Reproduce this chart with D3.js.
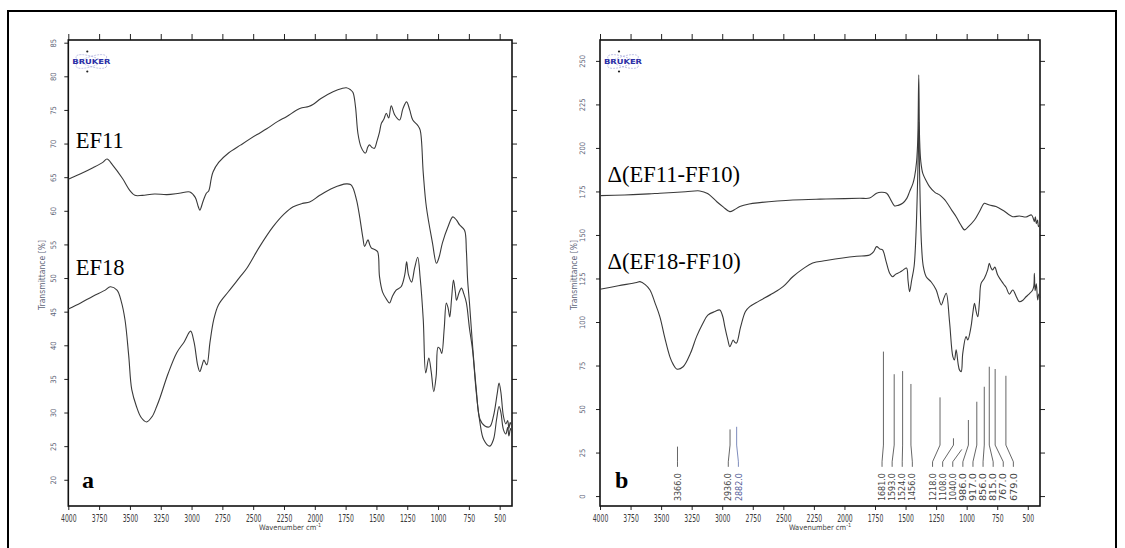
<!DOCTYPE html>
<html>
<head>
<meta charset="utf-8">
<script src="https://cdn.jsdelivr.net/npm/d3@7"></script>
<style>
  body { margin: 0; background: #fff; }
  svg text { font-family: "DejaVu Sans Condensed", "DejaVu Sans", sans-serif; }
</style>
</head>
<body>
<div id="chart"></div>
<script>
// ---- data (wavenumber cm-1, value) ----
const xTicks = d3.range(4000, 499, -250);
const yTicksA = d3.range(20, 86, 5);
const yTicksB = d3.range(0, 251, 25);

// panel a: transmittance [%]
const ef11 = [[4000,64.7],[3900,65.5],[3800,66.4],[3720,67.2],[3686,67.7],[3640,66.8],[3560,64.8],[3500,63.0],[3460,62.3],[3400,62.3],[3300,62.5],[3200,62.4],[3100,62.6],[3013,62.8],[2970,62.0],[2945,60.6],[2933,60.1],[2905,61.5],[2880,62.6],[2860,63.0],[2840,64.8],[2825,65.8],[2780,67.2],[2700,68.6],[2600,69.8],[2472,71.3],[2390,72.2],[2300,73.3],[2230,74.0],[2122,75.2],[2050,75.5],[2015,75.8],[1950,76.7],[1852,77.7],[1780,78.2],[1744,78.3],[1710,78.0],[1690,77.6],[1670,75.5],[1650,71.5],[1625,69.5],[1600,68.7],[1587,68.6],[1570,69.5],[1556,69.8],[1535,69.4],[1516,69.3],[1495,70.4],[1475,71.7],[1460,73.0],[1440,73.6],[1420,74.5],[1400,73.8],[1380,75.6],[1350,74.2],[1312,73.5],[1285,75.2],[1255,76.2],[1230,75.0],[1205,73.5],[1165,72.7],[1145,72.0],[1120,65.6],[1095,60.6],[1045,55.2],[1013,52.2],[990,53.2],[965,55.2],[920,57.6],[880,59.1],[850,58.6],[825,57.9],[785,57.1],[770,54.0],[760,49.7],[745,46.3],[720,40.0],[690,33.5],[660,29.0],[620,28.0],[580,27.9],[550,29.5],[520,32.8],[505,34.4],[490,33.0],[470,29.5],[450,28.3],[435,28.8],[425,27.6],[415,28.5],[400,27.8]];

const ef18 = [[4000,45.4],[3900,46.3],[3800,47.3],[3700,48.2],[3660,48.7],[3605,48.2],[3570,46.5],[3540,43.8],[3510,38.5],[3485,33.4],[3447,30.9],[3410,29.3],[3365,28.6],[3320,29.4],[3283,30.9],[3256,32.2],[3190,35.8],[3120,38.9],[3060,40.5],[3008,42.1],[2980,40.5],[2950,37.0],[2933,36.1],[2915,37.0],[2900,37.8],[2885,37.3],[2875,37.1],[2850,40.5],[2820,43.8],[2782,46.0],[2700,48.0],[2605,50.2],[2550,51.5],[2450,54.6],[2340,57.6],[2250,59.5],[2175,60.6],[2100,61.1],[2042,61.3],[1960,62.3],[1852,63.4],[1744,64.0],[1710,63.9],[1690,63.4],[1660,61.5],[1636,59.1],[1610,56.0],[1596,54.7],[1580,55.3],[1568,55.7],[1555,55.0],[1542,54.5],[1510,54.2],[1490,53.9],[1475,50.2],[1450,47.9],[1420,46.9],[1394,46.3],[1370,47.3],[1340,48.2],[1300,48.7],[1270,50.5],[1255,52.4],[1240,50.5],[1215,49.4],[1190,51.5],[1165,53.1],[1145,50.0],[1120,43.8],[1100,35.9],[1075,38.1],[1055,36.0],[1035,33.1],[1015,35.5],[1000,39.7],[985,39.5],[970,38.8],[950,42.5],[933,46.3],[918,45.5],[905,44.2],[890,47.0],[875,49.7],[860,48.0],[850,46.7],[830,47.8],[810,48.5],[790,47.6],[770,46.3],[745,42.5],[720,39.3],[690,33.0],[660,28.5],[630,26.0],[580,25.0],[550,26.0],[525,29.0],[505,30.9],[490,30.0],[470,27.5],[450,26.8],[435,27.8],[425,26.5],[412,27.6],[400,27.0]];

// panel b: difference spectra
const dEf11 = [[4000,172.6],[3800,173.0],[3600,173.6],[3510,174.0],[3300,174.8],[3183,175.3],[3120,173.8],[3044,169.1],[2990,166.0],[2938,163.4],[2900,164.5],[2856,166.3],[2780,167.8],[2693,168.6],[2550,169.5],[2423,170.1],[2200,170.6],[2000,170.9],[1876,171.1],[1794,171.2],[1737,174.0],[1700,174.5],[1655,174.0],[1620,170.0],[1590,166.7],[1560,167.0],[1524,168.2],[1490,171.0],[1467,174.9],[1440,179.5],[1426,183.5],[1410,192],[1400,205],[1392,242],[1385,205],[1375,192],[1359,185.4],[1330,181],[1304,177.8],[1260,174.5],[1222,173],[1190,171],[1167,169.1],[1120,164],[1086,160.5],[1050,156],[1018,152.9],[990,154.5],[936,158.6],[895,163.5],[855,168.2],[835,167.8],[814,167.2],[760,166.3],[700,164],[623,160.5],[569,160.9],[514,160.3],[470,161.5],[455,159.5],[446,157.6],[438,160.5],[430,156.5],[420,158.5],[412,154.8],[400,156]];

const dEf18 = [[4000,118.8],[3850,120.8],[3700,122.7],[3673,123.2],[3630,121.5],[3591,118.4],[3550,111],[3510,103],[3470,91],[3428,80],[3400,75.5],[3373,73],[3320,74.3],[3260,82],[3210,91.6],[3160,99],[3118,104],[3060,106],[3020,106.9],[2995,103],[2979,97.3],[2955,90],[2938,85.8],[2925,87.5],[2911,89.7],[2895,88.2],[2883,87.9],[2850,97],[2810,106],[2775,108.8],[2700,112],[2585,116.5],[2500,120.5],[2423,126],[2340,130.5],[2260,133.9],[2150,135.3],[2015,136.8],[1900,137.8],[1794,138.5],[1760,140.5],[1737,143.3],[1710,142],[1688,141.4],[1660,135],[1630,128],[1606,126],[1580,127.5],[1549,128.5],[1520,129.8],[1492,131],[1480,124],[1467,117.4],[1450,124],[1430,132],[1415,150],[1400,185],[1392,215],[1385,185],[1370,145],[1355,132],[1331,126],[1290,123],[1249,118.4],[1230,114],[1208,109.8],[1185,114],[1167,116.5],[1140,100],[1113,80.1],[1100,78.2],[1086,84.1],[1070,76],[1059,72.5],[1045,71.5],[1032,82.0],[1005,91.6],[991,89.7],[965,97],[950,105],[936,110.7],[922,106],[909,103],[895,112],[882,122.2],[855,125.1],[828,129.9],[815,133.7],[800,131],[787,129.9],[770,131.5],[746,127],[700,122],[678,120],[650,116],[623,118.4],[590,114],[569,111.7],[540,112.5],[514,114.5],[490,116],[460,118.4],[450,121],[446,128],[440,118],[430,122],[419,112.6],[410,116],[400,114]];

// peak picking sticks in panel b
const peaks = [3366, 2936, 2882, 1681, 1593, 1524, 1456, 1218, 1108, 1040, 986, 917, 856, 815, 767, 679];
const peakHeights = [28.4, 38.3, 39.8, 83, 70, 71.8, 64.4, 56.7, 33.2, 26.8, 43.7, 54.2, 62.8, 74.3, 73, 69.1];

// ---- layout ----
const W = 1125, H = 548;
const svg = d3.select("#chart").append("svg")
  .attr("width", W).attr("height", H)
  .style("display", "block");

// outer frame of the figure
svg.append("rect")
  .attr("x", 8).attr("y", 11).attr("width", 1108).attr("height", 560)
  .attr("fill", "none").attr("stroke", "#000").attr("stroke-width", 2);

const panels = [
  { left: 68.3, right: 512, yDomain: [16.1, 85.4], yTicks: yTicksA, labelOff: 12,
    series: [ef11, ef18], labels: [["EF11", 148], ["EF18", 275]], letter: "a", letterX: 82, ylabX: 45 },
  { left: 600, right: 1040, yDomain: [-5.7, 262], yTicks: yTicksB, labelOff: 15,
    series: [dEf11, dEf18], labels: [["\u0394(EF11-FF10)", 182], ["\u0394(EF18-FF10)", 269]], letter: "b", letterX: 615, ylabX: 577 }
];
const plotTop = 40, plotBottom = 506;

// spread peak labels so neighbours keep at least `gap` px apart
function spreadLabels(px, gap) {
  let groups = px.map((v, k) => ({ idx: [k] }));
  const place = gr => {
    const lo = px[gr.idx[0]], hi = px[gr.idx[gr.idx.length - 1]];
    gr.start = (lo + hi) / 2 - (gr.idx.length - 1) / 2 * gap;
  };
  groups.forEach(place);
  let changed = true;
  while (changed) {
    changed = false;
    for (let j = 1; j < groups.length; j++) {
      const prev = groups[j - 1], cur = groups[j];
      const prevEnd = prev.start + (prev.idx.length - 1) * gap;
      if (cur.start - prevEnd < gap) {
        prev.idx = prev.idx.concat(cur.idx);
        place(prev);
        groups.splice(j, 1);
        changed = true;
        break;
      }
    }
  }
  const lx = new Array(px.length);
  groups.forEach(gr => gr.idx.forEach((k, j) => { lx[k] = gr.start + j * gap; }));
  return lx;
}

panels.forEach((p, i) => {
  const x = d3.scaleLinear().domain([4000, 400]).range([p.left, p.right]);
  const y = d3.scaleLinear().domain(p.yDomain).range([plotBottom, plotTop]);
  const g = svg.append("g");

  // bottom axis with labels
  const ax = g.append("g").attr("transform", `translate(0,${plotBottom})`)
    .call(d3.axisBottom(x).tickValues(xTicks).tickSize(4).tickSizeOuter(0).tickFormat(d3.format("d")));
  ax.select(".domain").remove();
  ax.selectAll("line").attr("stroke", "#222");
  ax.selectAll("text")
    .attr("y", 9).attr("dy", "0.71em")
    .attr("fill", "#3a3a3a").style("font-size", "10px")
    .attr("textLength", d => String(d).length * 3.9).attr("lengthAdjust", "spacingAndGlyphs");

  // top ticks (no labels)
  const at = g.append("g").attr("transform", `translate(0,${plotTop})`)
    .call(d3.axisTop(x).tickValues(xTicks).tickSize(6).tickSizeOuter(0).tickFormat(""));
  at.select(".domain").remove();
  at.selectAll("line").attr("stroke", "#222");

  // left axis, rotated labels
  const ay = g.append("g").attr("transform", `translate(${p.left},0)`)
    .call(d3.axisLeft(y).tickValues(p.yTicks).tickSize(4).tickSizeOuter(0).tickFormat(d3.format("d")));
  ay.select(".domain").remove();
  ay.selectAll("line").attr("stroke", "#222");
  ay.selectAll("text")
    .attr("transform", "rotate(-90)")
    .attr("x", 0).attr("y", -p.labelOff).attr("dy", 0)
    .attr("text-anchor", "middle")
    .attr("fill", "#5d6478").style("font-size", "7.5px");

  // right ticks (no labels)
  const ar = g.append("g").attr("transform", `translate(${p.right},0)`)
    .call(d3.axisRight(y).tickValues(p.yTicks).tickSize(5).tickSizeOuter(0).tickFormat(""));
  ar.select(".domain").remove();
  ar.selectAll("line").attr("stroke", "#222");

  // plot frame
  g.append("rect")
    .attr("x", p.left).attr("y", plotTop)
    .attr("width", p.right - p.left).attr("height", plotBottom - plotTop)
    .attr("fill", "none").attr("stroke", "#111").attr("stroke-width", 1.6);

  // axis titles
  const xt = g.append("text")
    .attr("x", (p.left + p.right) / 2).attr("y", 530)
    .attr("text-anchor", "middle").attr("fill", "#444").style("font-size", "7.5px");
  xt.append("tspan").text("Wavenumber cm");
  xt.append("tspan").attr("dy", -3).style("font-size", "5.5px").text("-1");

  g.append("text")
    .attr("transform", `translate(${p.ylabX},275) rotate(-90)`)
    .attr("text-anchor", "middle").attr("fill", "#5d6478").style("font-size", "8.5px")
    .text("Transmittance [%]");

  // spectra
  const line = d3.line()
    .x(d => x(d[0])).y(d => y(d[1]))
    .curve(d3.curveCatmullRom.alpha(0.5));
  p.series.forEach(s => {
    g.append("path").datum(s)
      .attr("d", line)
      .attr("fill", "none").attr("stroke", "#3a3a3a").attr("stroke-width", 1.1)
      .attr("stroke-linejoin", "round");
  });

  // curve names
  p.labels.forEach(([t, by]) => {
    g.append("text")
      .attr("x", p.left + 7.5).attr("y", by)
      .style("font-family", '"Liberation Serif", "Times New Roman", serif')
      .style("font-size", "22.5px").attr("fill", "#000")
      .text(t);
  });
  g.append("text")
    .attr("x", p.letterX).attr("y", 488)
    .style("font-family", '"Liberation Serif", "Times New Roman", serif')
    .style("font-size", "24px").style("font-weight", "bold").attr("fill", "#000")
    .text(p.letter);

  // Bruker logo
  const lg = g.append("g").attr("transform", `translate(${p.left + 23},61.5)`);
  lg.append("ellipse").attr("rx", 16).attr("ry", 5).attr("transform", "rotate(18)")
    .attr("fill", "none").attr("stroke", "#8d8fd0").attr("stroke-width", 0.5).attr("stroke-dasharray", "2,1");
  lg.append("ellipse").attr("rx", 16).attr("ry", 5).attr("transform", "rotate(-18)")
    .attr("fill", "none").attr("stroke", "#8d8fd0").attr("stroke-width", 0.5).attr("stroke-dasharray", "2,1");
  lg.append("circle").attr("cx", -4).attr("cy", -10).attr("r", 1.1).attr("fill", "#222");
  lg.append("circle").attr("cx", -4).attr("cy", 10).attr("r", 1.1).attr("fill", "#222");
  lg.append("text").attr("x", 0).attr("y", 2.5).attr("text-anchor", "middle")
    .attr("fill", "#2b2fa6").style("font-size", "7px").style("font-weight", "bold")
    .attr("textLength", 38).attr("lengthAdjust", "spacingAndGlyphs")
    .text("BRUKER");

  // peak sticks with spread labels (panel b only)
  if (i === 1) {
    const px = peaks.map(w => x(w));
    const lx = spreadLabels(px, 10.1);
    const bendV = 29.3, kneeV = 19.7, footV = 16.8, textV = 13.2;
    const sticks = g.append("g");
    peaks.forEach((w, k) => {
      const hv = peakHeights[k];
      const bv = Math.min(hv, bendV);
      const pts = [[px[k], y(hv)], [px[k], y(bv)], [lx[k], y(kneeV)], [lx[k], y(footV)]];
      const col = w === 2882 ? "#6f7fb4" : "#555";
      sticks.append("path")
        .attr("d", d3.line()(pts))
        .attr("fill", "none").attr("stroke", col).attr("stroke-width", 0.9);
      sticks.append("text")
        .attr("transform", `translate(${lx[k]},${y(textV)}) rotate(-90)`)
        .attr("dy", "0.35em").attr("text-anchor", "end")
        .attr("fill", w === 2882 ? "#55609a" : "#444").style("font-size", "9px")
        .attr("textLength", 28).attr("lengthAdjust", "spacingAndGlyphs")
        .text(w.toFixed(1));
    });
  }
});
</script>
</body>
</html>
